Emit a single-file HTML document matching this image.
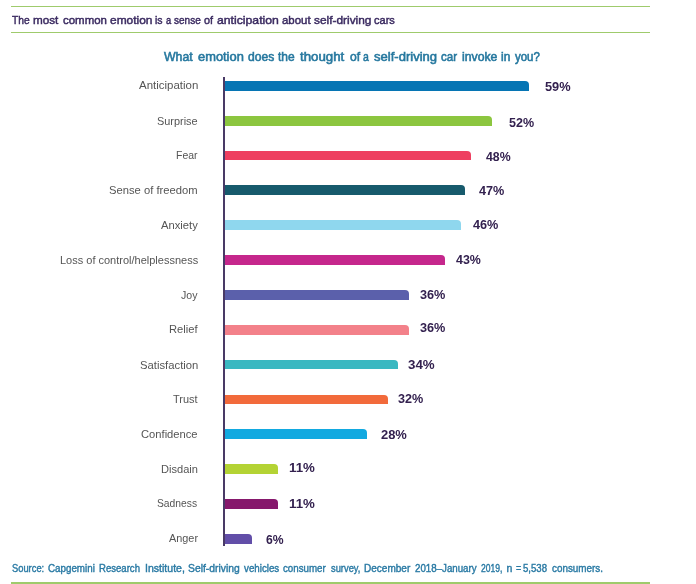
<!DOCTYPE html>
<html><head><meta charset="utf-8"><title>chart</title>
<style>
html,body{margin:0;padding:0;background:#fff;}
body{width:696px;height:584px;position:relative;overflow:hidden;font-family:"Liberation Sans",sans-serif;}
.gl{position:absolute;left:11.2px;width:639.3px;height:1.5px;background:#9fcb6c;}
.t{position:absolute;white-space:pre;transform-origin:0 0;}
.hd{font-size:11.3px;line-height:16px;color:#3a2a60;-webkit-text-stroke:0.45px #3a2a60;}
.tt{font-size:12px;line-height:16px;color:#26789f;-webkit-text-stroke:0.55px #26789f;}
.src{font-size:10.5px;line-height:14px;color:#2a7aa4;-webkit-text-stroke:0.4px #2a7aa4;}
.ax{position:absolute;left:223.4px;top:76.7px;width:1.7px;height:469.8px;background:#493a66;}
.lb{font-size:10.9px;line-height:14px;color:#555;}
.br{position:absolute;left:225px;height:9.8px;border-radius:0 4px 0 0;}
.vl{font-size:11.9px;line-height:14px;font-weight:bold;color:#33214f;}
</style></head><body>
<div class="gl" style="top:5.9px"></div>
<div><span id="hd0" class="t hd" style="left:12.40px;top:12.00px;transform:scaleX(0.9095);">The </span><span id="hd1" class="t hd" style="left:33.47px;top:12.00px;transform:scaleX(1.0354);">most </span><span id="hd2" class="t hd" style="left:63.04px;top:12.00px;transform:scaleX(1.0142);">common </span><span id="hd3" class="t hd" style="left:109.87px;top:12.00px;transform:scaleX(1.0562);">emotion </span><span id="hd4" class="t hd" style="left:154.93px;top:12.00px;transform:scaleX(0.9274);">is </span><span id="hd5" class="t hd" style="left:165.68px;top:12.00px;transform:scaleX(0.8240);">a </span><span id="hd6" class="t hd" style="left:174.00px;top:12.00px;transform:scaleX(0.8875);">sense </span><span id="hd7" class="t hd" style="left:204.14px;top:12.00px;transform:scaleX(0.9572);">of </span><span id="hd8" class="t hd" style="left:217.37px;top:12.00px;transform:scaleX(1.0821);">anticipation </span><span id="hd9" class="t hd" style="left:281.88px;top:12.00px;transform:scaleX(1.0121);">about </span><span id="hd10" class="t hd" style="left:314.43px;top:12.00px;transform:scaleX(1.0524);">self-driving </span><span id="hd11" class="t hd" style="left:374.45px;top:12.00px;transform:scaleX(0.9751);">cars</span></div>
<div class="gl" style="top:31.8px"></div>
<div><span id="tt0" class="t tt" style="left:164.00px;top:49.00px;transform:scaleX(1.0246);">What </span><span id="tt1" class="t tt" style="left:198.20px;top:49.00px;transform:scaleX(1.0725);">emotion </span><span id="tt2" class="t tt" style="left:247.90px;top:49.00px;transform:scaleX(1.0081);">does </span><span id="tt3" class="t tt" style="left:277.95px;top:49.00px;transform:scaleX(0.9994);">the </span><span id="tt4" class="t tt" style="left:300.01px;top:49.00px;transform:scaleX(1.1065);">thought </span><span id="tt5" class="t tt" style="left:349.73px;top:49.00px;transform:scaleX(1.0085);">of </span><span id="tt6" class="t tt" style="left:363.26px;top:49.00px;transform:scaleX(0.8720);">a </span><span id="tt7" class="t tt" style="left:374.10px;top:49.00px;transform:scaleX(1.0868);">self-driving </span><span id="tt8" class="t tt" style="left:441.20px;top:49.00px;transform:scaleX(0.9608);">car </span><span id="tt9" class="t tt" style="left:461.93px;top:49.00px;transform:scaleX(1.0187);">invoke </span><span id="tt10" class="t tt" style="left:500.97px;top:49.00px;transform:scaleX(0.9923);">in </span><span id="tt11" class="t tt" style="left:515.06px;top:49.00px;transform:scaleX(0.9558);">you?</span></div>
<div class="ax"></div>
<div id="l0" class="t lb" style="left:139.00px;top:77.50px;transform:scaleX(1.0533);">Anticipation</div>
<div class="br" style="top:80.90px;width:303.5px;background:#0675b4"></div>
<div id="v0" class="t vl" style="left:544.53px;top:79.70px;transform:scaleX(1.0760);">59%</div>
<div id="l1" class="t lb" style="left:156.97px;top:113.87px;transform:scaleX(1.0012);">Surprise</div>
<div class="br" style="top:115.75px;width:267.2px;background:#8cc63f"></div>
<div id="v1" class="t vl" style="left:508.99px;top:115.55px;transform:scaleX(1.0531);">52%</div>
<div id="l2" class="t lb" style="left:176.32px;top:148.24px;transform:scaleX(0.9606);">Fear</div>
<div class="br" style="top:150.59px;width:245.9px;background:#ee3f60"></div>
<div id="v2" class="t vl" style="left:485.57px;top:150.20px;transform:scaleX(1.0339);">48%</div>
<div id="l3" class="t lb" style="left:108.90px;top:182.61px;transform:scaleX(1.0306);">Sense of freedom</div>
<div class="br" style="top:185.44px;width:240.3px;background:#175a6c"></div>
<div id="v3" class="t vl" style="left:478.69px;top:184.05px;transform:scaleX(1.0633);">47%</div>
<div id="l4" class="t lb" style="left:161.00px;top:217.98px;transform:scaleX(1.0289);">Anxiety</div>
<div class="br" style="top:220.28px;width:235.8px;background:#8fd7ee"></div>
<div id="v4" class="t vl" style="left:472.55px;top:218.30px;transform:scaleX(1.0655);">46%</div>
<div id="l5" class="t lb" style="left:59.69px;top:253.35px;transform:scaleX(1.0097);">Loss of control/helplessness</div>
<div class="br" style="top:255.13px;width:219.7px;background:#c5278c"></div>
<div id="v5" class="t vl" style="left:456.23px;top:253.15px;transform:scaleX(1.0427);">43%</div>
<div id="l6" class="t lb" style="left:181.03px;top:287.72px;transform:scaleX(0.9712);">Joy</div>
<div class="br" style="top:289.98px;width:183.5px;background:#5b60ab"></div>
<div id="v6" class="t vl" style="left:420.25px;top:288.00px;transform:scaleX(1.0670);">36%</div>
<div id="l7" class="t lb" style="left:169.25px;top:322.09px;transform:scaleX(1.0267);">Relief</div>
<div class="br" style="top:324.82px;width:183.5px;background:#f3818a"></div>
<div id="v7" class="t vl" style="left:420.25px;top:321.45px;transform:scaleX(1.0670);">36%</div>
<div id="l8" class="t lb" style="left:140.25px;top:358.46px;transform:scaleX(1.0364);">Satisfaction</div>
<div class="br" style="top:359.67px;width:172.9px;background:#3ab8c1"></div>
<div id="v8" class="t vl" style="left:408.49px;top:357.90px;transform:scaleX(1.1198);">34%</div>
<div id="l9" class="t lb" style="left:172.75px;top:391.83px;transform:scaleX(1.0068);">Trust</div>
<div class="br" style="top:394.51px;width:162.6px;background:#f26a3b"></div>
<div id="v9" class="t vl" style="left:398.25px;top:392.15px;transform:scaleX(1.0616);">32%</div>
<div id="l10" class="t lb" style="left:141.25px;top:427.20px;transform:scaleX(1.0270);">Confidence</div>
<div class="br" style="top:429.36px;width:141.6px;background:#12a9e0"></div>
<div id="v10" class="t vl" style="left:380.99px;top:428.20px;transform:scaleX(1.0865);">28%</div>
<div id="l11" class="t lb" style="left:160.61px;top:461.57px;transform:scaleX(1.0176);">Disdain</div>
<div class="br" style="top:464.21px;width:52.7px;background:#b4d334"></div>
<div id="v11" class="t vl" style="left:288.52px;top:461.25px;transform:scaleX(1.1157);">11%</div>
<div id="l12" class="t lb" style="left:157.47px;top:495.94px;transform:scaleX(0.9454);">Sadness</div>
<div class="br" style="top:499.05px;width:52.7px;background:#86186c"></div>
<div id="v12" class="t vl" style="left:288.52px;top:496.90px;transform:scaleX(1.1157);">11%</div>
<div id="l13" class="t lb" style="left:169.16px;top:531.31px;transform:scaleX(0.9994);">Anger</div>
<div class="br" style="top:533.90px;width:26.9px;background:#624ea8"></div>
<div id="v13" class="t vl" style="left:265.75px;top:533.15px;transform:scaleX(1.0228);">6%</div>
<div><span id="src0" class="t src" style="left:12.12px;top:561.00px;transform:scaleX(0.8897);">Source: </span><span id="src1" class="t src" style="left:48.20px;top:561.00px;transform:scaleX(0.9326);">Capgemini </span><span id="src2" class="t src" style="left:99.35px;top:561.00px;transform:scaleX(0.9112);">Research </span><span id="src3" class="t src" style="left:144.90px;top:561.00px;transform:scaleX(1.0045);">Institute, </span><span id="src4" class="t src" style="left:187.61px;top:561.00px;transform:scaleX(0.9846);">Self-driving </span><span id="src5" class="t src" style="left:244.00px;top:561.00px;transform:scaleX(0.9289);">vehicles </span><span id="src6" class="t src" style="left:283.30px;top:561.00px;transform:scaleX(0.9273);">consumer </span><span id="src7" class="t src" style="left:331.20px;top:561.00px;transform:scaleX(0.8886);">survey, </span><span id="src8" class="t src" style="left:364.03px;top:561.00px;transform:scaleX(0.9554);">December </span><span id="src9" class="t src" style="left:414.90px;top:561.00px;transform:scaleX(0.9257);">2018–January </span><span id="src10" class="t src" style="left:481.10px;top:561.00px;transform:scaleX(0.8155);">2019, </span><span id="src11" class="t src" style="left:506.40px;top:561.00px;">n </span><span id="src12" class="t src" style="left:515.60px;top:561.00px;transform:scaleX(0.8500);">= </span><span id="src13" class="t src" style="left:523.30px;top:561.00px;transform:scaleX(0.9156);">5,538 </span><span id="src14" class="t src" style="left:551.52px;top:561.00px;transform:scaleX(0.9380);">consumers.</span></div>
<div class="gl" style="top:582.3px;height:1.7px"></div>
</body></html>
